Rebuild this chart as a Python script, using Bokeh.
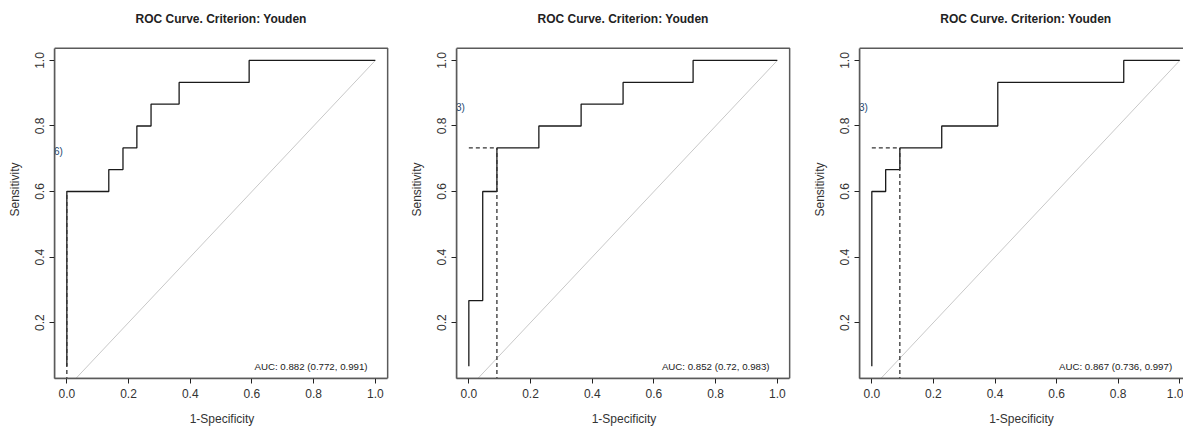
from bokeh.plotting import figure
from bokeh.layouts import row
from bokeh.models import FixedTicker, Range1d, Label, BoxAnnotation
from bokeh.core.properties import value
from bokeh.embed import file_html
from bokeh.resources import INLINE

# ---- data ----
title_text = "ROC Curve. Criterion: Youden"
x_label = "1-Specificity"
y_label = "Sensitivity"

# step curves: fpr where each sensitivity level begins, and the level
roc1_fpr = [0, 0, 0.136, 0.182, 0.227, 0.273, 0.364, 0.591, 1.0]
roc1_tpr = [0.067, 0.6, 0.667, 0.733, 0.8, 0.867, 0.933, 1.0, 1.0]
roc2_fpr = [0, 0, 0.045, 0.091, 0.227, 0.364, 0.5, 0.727, 1.0]
roc2_tpr = [0.067, 0.267, 0.6, 0.733, 0.8, 0.867, 0.933, 1.0, 1.0]
roc3_fpr = [0, 0, 0.045, 0.091, 0.227, 0.409, 0.818, 1.0]
roc3_tpr = [0.067, 0.6, 0.667, 0.733, 0.8, 0.933, 1.0, 1.0]

opt_fpr = [0.0, 0.091, 0.091]
opt_tpr = [0.6, 0.733, 0.733]
opt_labels = ["6)", "3)", "3)"]
auc_texts = ["AUC: 0.882 (0.772, 0.991)", "AUC: 0.852 (0.72, 0.983)", "AUC: 0.867 (0.736, 0.997)"]

x_ticks = [0.0, 0.2, 0.4, 0.6, 0.8, 1.0]
y_ticks = [0.2, 0.4, 0.6, 0.8, 1.0]
tick_label_fmt = {t: f"{t:.1f}" for t in x_ticks + y_ticks}

FONT = "Liberation Sans"
BOX = "#5a5a5a"
TXT = "#333333"

# plot-region limits (R style: data range extended by 4%)
X_LO, X_HI = -0.04, 1.04
Y_LO, Y_HI = 0.0293, 1.0373
Y_TOP = 1.183     # frame reaches the page top so the title can sit inside it
TITLE_Y = 1.128

curves = [(roc1_fpr, roc1_tpr), (roc2_fpr, roc2_tpr), (roc3_fpr, roc3_tpr)]
widths = [402, 403, 378]
x_ends = [1.046, 1.046, 1.012]
border_right = [13, 14, 0]

figs = []
for i in range(3):
    p = figure(width=widths[i], height=428, output_backend="svg", toolbar_location=None,
               x_range=Range1d(X_LO, x_ends[i]), y_range=Range1d(Y_LO, Y_TOP),
               min_border_left=54, min_border_right=border_right[i],
               min_border_top=0, min_border_bottom=48)
    p.grid.visible = False
    p.outline_line_color = None
    p.background_fill_color = "white"
    p.border_fill_color = "white"

    for ax, ticks in ((p.xaxis[0], x_ticks), (p.yaxis[0], y_ticks)):
        ax.ticker = FixedTicker(ticks=ticks)
        ax.major_label_overrides = {t: tick_label_fmt[t] for t in ticks}
        ax.minor_tick_line_color = None
        ax.major_tick_in = 0
        ax.major_tick_out = 5
        ax.major_tick_line_color = "#222222"
        ax.major_label_text_font = FONT
        ax.major_label_text_font_size = "12px"
        ax.major_label_text_color = TXT
        ax.axis_label_text_font = FONT
        ax.axis_label_text_font_size = "12px"
        ax.axis_label_text_font_style = "normal"
        ax.axis_label_text_color = TXT
        ax.major_label_standoff = 5
        ax.axis_label_standoff = 11
        ax.axis_line_color = BOX
        ax.axis_line_width = 1.5
    p.xaxis.axis_label = x_label
    p.yaxis.axis_label = y_label
    p.yaxis.major_label_orientation = "vertical"
    p.yaxis.bounds = (Y_LO, Y_HI)
    p.xaxis.bounds = (X_LO, min(X_HI, x_ends[i]))

    # plot box
    p.add_layout(BoxAnnotation(left=X_LO, right=X_HI, bottom=Y_LO, top=Y_HI,
                               fill_alpha=0, fill_color=None,
                               line_color=BOX, line_alpha=1.0, line_width=1.5))

    # title
    p.add_layout(Label(x=0.5, y=TITLE_Y, text=title_text,
                       text_align="center", text_baseline="middle", text_font=FONT,
                       text_font_size="12px", text_font_style="bold", text_color="#222222"))

    # diagonal reference
    p.line([0, 1], [0, 1], line_color="#c8c8c8", line_width=1)
    # ROC step curve
    fx, fy = curves[i]
    p.step(fx, fy, mode="after", line_color="#1a1a1a", line_width=1.3)
    # Youden cut lines
    ox, oy = opt_fpr[i], opt_tpr[i]
    p.segment(x0=[ox, 0], y0=[0, oy], x1=[ox, ox], y1=[oy, oy],
              line_color="#333333", line_width=1.3, line_dash="4 3")
    # clipped optimal-point label
    p.text(x=[-0.013], y=[oy + 0.123], text=[opt_labels[i]], text_align="right",
           text_baseline="middle", text_font=value(FONT), text_font_size="10px",
           text_color="#24466e")
    # AUC text
    p.text(x=[0.975], y=[0.065], text=[auc_texts[i]], text_align="right",
           text_baseline="middle", text_font=value(FONT), text_font_size="9.7px",
           text_color="#222222")
    figs.append(p)

layout = row(*figs, spacing=0)
open("out.html", "w").write(file_html(layout, INLINE))
